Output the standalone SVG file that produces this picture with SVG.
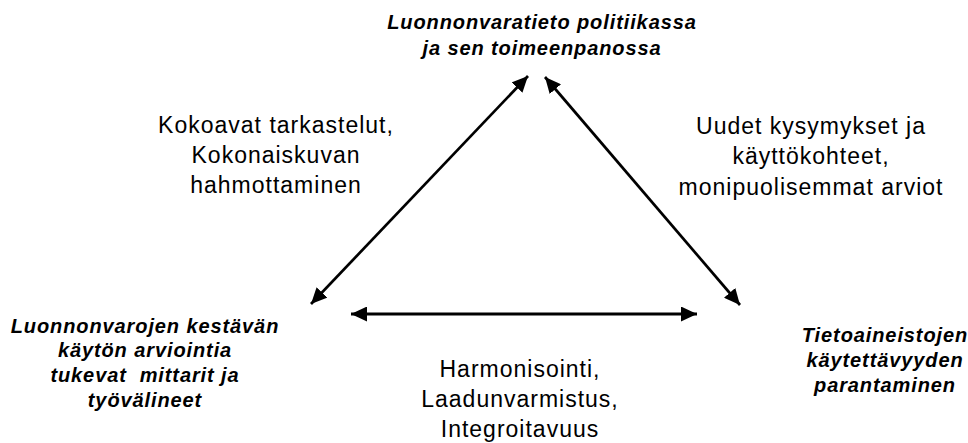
<svg xmlns="http://www.w3.org/2000/svg" width="968" height="443" viewBox="0 0 968 443">
  <style>
    .node { font-family: "Liberation Sans", Arial, sans-serif; font-size: 20px; font-weight: bold; font-style: italic; letter-spacing: 0.9px; text-anchor: middle; fill: #000; }
    .elab { font-family: "Liberation Sans", Arial, sans-serif; font-size: 23px; letter-spacing: 1px; text-anchor: middle; fill: #000; }
    .conn { stroke: #000; fill: none; marker-start: url(#arrow); marker-end: url(#arrow); }
  </style>
  <defs>
    <marker id="arrow" markerUnits="userSpaceOnUse" markerWidth="17" markerHeight="15" refX="16" refY="7.5" orient="auto-start-reverse" viewBox="0 0 17 15">
      <path d="M0,0 L16,7.5 L0,15 z" fill="#000"/>
    </marker>
  </defs>
  <rect width="968" height="443" fill="#fff"/>

  <g id="connectors">
    <line class="conn" stroke-width="2.7" x1="311" y1="304" x2="528" y2="76"/>
    <line class="conn" stroke-width="2.7" x1="545" y1="77" x2="740" y2="305"/>
    <line class="conn" stroke-width="3.2" x1="351" y1="314" x2="697" y2="314"/>
  </g>

  <g id="node-top">
    <text class="node" x="542" y="29">Luonnonvaratieto politiikassa</text>
    <text class="node" x="542" y="55">ja sen toimeenpanossa</text>
  </g>

  <g id="node-left">
    <text class="node" x="145" y="333">Luonnonvarojen kestävän</text>
    <text class="node" x="145" y="357">käytön arviointia</text>
    <text class="node" x="145" y="382" style="white-space: pre">tukevat  mittarit ja</text>
    <text class="node" x="145" y="407">työvälineet</text>
  </g>

  <g id="node-right">
    <text class="node" x="885" y="342">Tietoaineistojen</text>
    <text class="node" x="885" y="367">käytettävyyden</text>
    <text class="node" x="885" y="392">parantaminen</text>
  </g>

  <g id="label-left-edge">
    <text class="elab" x="276" y="133">Kokoavat tarkastelut,</text>
    <text class="elab" x="276" y="163">Kokonaiskuvan</text>
    <text class="elab" x="276" y="193">hahmottaminen</text>
  </g>

  <g id="label-right-edge">
    <text class="elab" x="811" y="134">Uudet kysymykset ja</text>
    <text class="elab" x="811" y="164">käyttökohteet,</text>
    <text class="elab" x="811" y="195">monipuolisemmat arviot</text>
  </g>

  <g id="label-bottom-edge">
    <text class="elab" x="520" y="377">Harmonisointi,</text>
    <text class="elab" x="520" y="407">Laadunvarmistus,</text>
    <text class="elab" x="520" y="437">Integroitavuus</text>
  </g>
</svg>
